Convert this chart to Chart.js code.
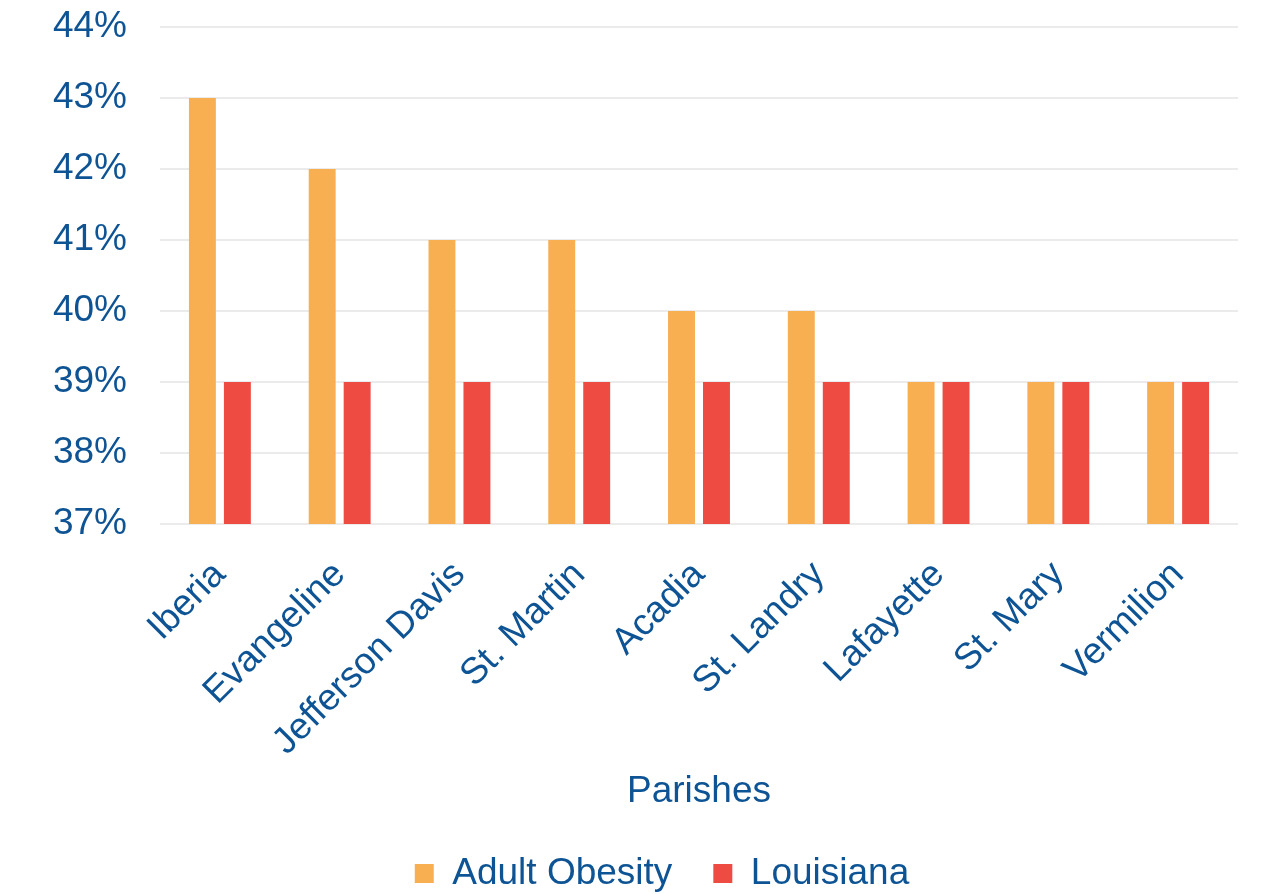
<!DOCTYPE html>
<html>
<head>
<meta charset="utf-8">
<script src="https://cdn.jsdelivr.net/npm/chart.js@4/dist/chart.umd.min.js"></script>
<style>
  html, body { margin: 0; padding: 0; background: #ffffff; }
  #wrap { width: 1266px; height: 894px; position: relative; }
</style>
</head>
<body>
<div id="wrap"><canvas id="chart"></canvas></div>
<script>
// Adult obesity rates by parish compared with the Louisiana state rate
const parishes = ['Iberia', 'Evangeline', 'Jefferson Davis', 'St. Martin', 'Acadia',
                  'St. Landry', 'Lafayette', 'St. Mary', 'Vermilion'];
const adultObesity = [43, 42, 41, 41, 40, 40, 39, 39, 39];
const louisiana = [39, 39, 39, 39, 39, 39, 39, 39, 39];
const yTicks = [37, 38, 39, 40, 41, 42, 43, 44];

const textColor = '#0E5494';
const fontFamily = '"Liberation Sans", Arial, sans-serif';

// Nudge the legend row a little to the right of the canvas centre
const legendShift = {
  id: 'legendShift',
  afterLayout(chart) {
    if (chart.legend) {
      chart.legend.left += 17;
      chart.legend.right += 17;
    }
  }
};

new Chart(document.getElementById('chart'), {
  type: 'bar',
  data: {
    labels: parishes,
    datasets: [
      { label: 'Adult Obesity', data: adultObesity, backgroundColor: '#F7AF52',
        categoryPercentage: 0.584, barPercentage: 0.77 },
      { label: 'Louisiana', data: louisiana, backgroundColor: '#EE4B43',
        categoryPercentage: 0.584, barPercentage: 0.77 }
    ]
  },
  plugins: [legendShift],
  options: {
    responsive: true,
    maintainAspectRatio: false,
    animation: false,
    layout: { padding: { left: 52, right: 28, top: 27, bottom: -8 } },
    plugins: {
      tooltip: { enabled: false },
      legend: {
        position: 'bottom',
        labels: {
          color: textColor,
          font: { family: fontFamily, size: 37 },
          boxWidth: 19,
          boxHeight: 19,
          padding: 41
        }
      }
    },
    scales: {
      x: {
        grid: { display: false, drawTicks: false },
        border: { display: false },
        ticks: {
          color: textColor,
          font: { family: fontFamily, size: 37 },
          maxRotation: 45,
          minRotation: 45,
          autoSkip: false,
          padding: 29
        },
        title: {
          display: true,
          text: 'Parishes',
          color: textColor,
          font: { family: fontFamily, size: 37 },
          padding: { top: 0, bottom: 0 }
        },
        afterFit: (scale) => {
          scale.paddingLeft = 0;
          scale.paddingRight = 0;
          scale.height = 290;
        }
      },
      y: {
        min: yTicks[0],
        max: yTicks[yTicks.length - 1],
        afterBuildTicks: (scale) => { scale.ticks = yTicks.map(v => ({ value: v })); },
        grid: { color: '#EBEBEB', lineWidth: 2, drawTicks: false },
        border: { display: false },
        ticks: {
          color: textColor,
          font: { family: fontFamily, size: 37 },
          padding: 33,
          callback: (v) => v + '%'
        },
        afterFit: (scale) => {
          scale.paddingTop = 0;
          scale.paddingBottom = 0;
          scale.width = 108;
        }
      }
    }
  }
});
</script>
</body>
</html>
